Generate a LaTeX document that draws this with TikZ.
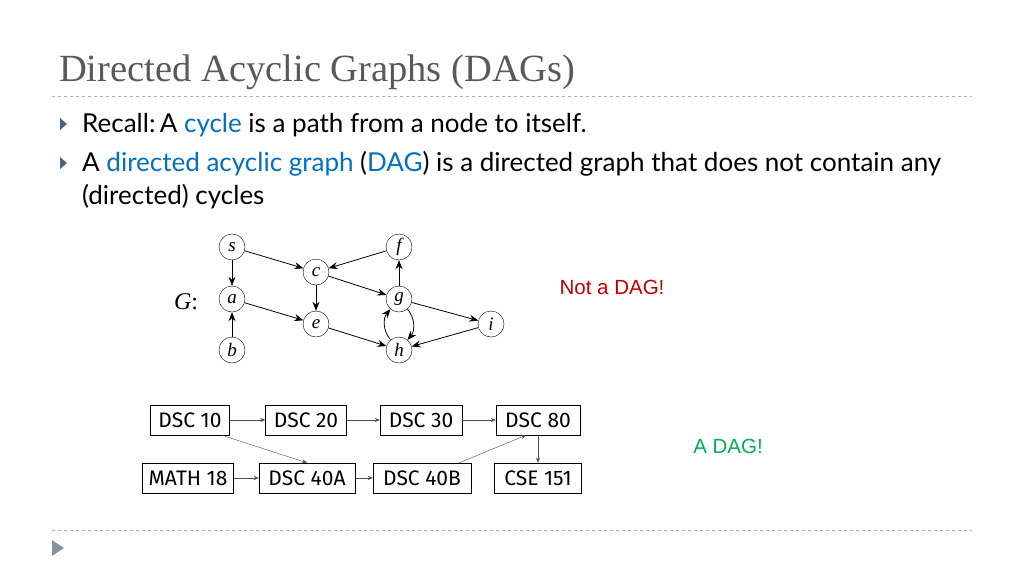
\documentclass[tikz,border=0pt]{standalone}
\usepackage{fontspec}
\setmainfont{Liberation Serif}
\newfontfamily\bodyf{Lato}
\newfontfamily\boxf{Fira Sans}
\newfontfamily\arialf{Liberation Sans}
\usetikzlibrary{arrows.meta}
\definecolor{bl}{RGB}{0,112,192}
\definecolor{bul}{RGB}{80,100,120}
\definecolor{tgray}{RGB}{89,89,89}
\begin{document}
\begin{tikzpicture}[x=1pt,y=-1pt,
 gn/.style={circle,draw,thin,minimum size=26pt,inner sep=0pt,font=\itshape\fontsize{19}{19}\selectfont},
 ge/.style={-{Stealth[length=9pt,width=7pt]},thick},
 bx/.style={draw,thin,minimum height=30pt,inner sep=2pt,font=\boxf\fontsize{21}{21}\selectfont},
 be/.style={-{Stealth[length=5pt,width=4pt]},thin,black!70},
 bt/.style={anchor=west,font=\bodyf\fontsize{26}{30}\selectfont,inner sep=0pt},
 tri/.style={fill=bul,draw=none}]
\useasboundingbox (0,0) rectangle (1024,576);
\node[anchor=west,text=tgray,font=\fontsize{38.5}{38.5}\selectfont,inner sep=0pt] (title) at (59,72) {Directed Acyclic Graphs (DAGs)};
\draw[gray!60,dashed] (52,96) -- (972,96);
\draw[gray!60,dashed] (52,530) -- (972,530);
\fill[tri] (60,118) -- (67,124) -- (60,130) -- cycle;
\fill[tri] (60,157) -- (67,163) -- (60,169) -- cycle;
\fill[bul!70] (52,540) -- (64,548) -- (52,556) -- cycle;
\node[bt] (l1) at (82,125) {Recall:\,A \textcolor{bl}{cycle} is a path from a node to itself.};
\node[bt] (l2) at (82,164) {A \textcolor{bl}{directed acyclic graph} (\textcolor{bl}{DAG}) is a directed graph that does not contain any};
\node[bt] (l3) at (82,197) {(directed) cycles};
\node[gn] (s) at (232,247) {s};
\node[gn] (c) at (316,272) {c};
\node[gn] (f) at (399,247) {f};
\node[gn] (a) at (232,299) {a};
\node[gn] (e) at (316,324) {e};
\node[gn] (g) at (399,299) {g};
\node[gn] (i) at (491,324) {i};
\node[gn] (b) at (232,350) {b};
\node[gn] (h) at (399,350) {h};
\node[font=\itshape\fontsize{24}{24}\selectfont] (G) at (186,302) {G\/\upshape:};
\draw[ge] (s)--(a); \draw[ge] (s)--(c); \draw[ge] (f)--(c);
\draw[ge] (b)--(a); \draw[ge] (a)--(e); \draw[ge] (c)--(e);
\draw[ge] (c)--(g); \draw[ge] (g)--(f); \draw[ge] (g)--(i);
\draw[ge] (e)--(h); \draw[ge] (i)--(h);
\draw[ge] (g) to[bend left=40] (h);
\draw[ge] (h) to[bend left=40] (g);
\node[text=red!75!black,font=\arialf\fontsize{20.5}{20.5}\selectfont] (nd) at (612,287) {Not a DAG!};
\node[text={rgb,255:red,0;green,176;blue,80},font=\arialf\fontsize{20.5}{20.5}\selectfont] (ad) at (728,446) {A DAG!};
\node[bx,minimum width=79pt] (d10) at (190,420) {DSC 10};
\node[bx,minimum width=81pt] (d20) at (306,420) {DSC 20};
\node[bx,minimum width=82pt] (d30) at (421,420) {DSC 30};
\node[bx,minimum width=84pt] (d80) at (538,420) {DSC 80};
\node[bx,minimum width=91pt] (m18) at (188,478) {MATH 18};
\node[bx,minimum width=96pt] (d40a) at (307,478) {DSC 40A};
\node[bx,minimum width=98pt] (d40b) at (422,478) {DSC 40B};
\node[bx,minimum width=87pt] (c151) at (538,478) {CSE 151};
\draw[be] (d10)--(d20); \draw[be] (d20)--(d30); \draw[be] (d30)--(d80);
\draw[be] ([xshift=-8pt]d10.south east) -- (d40a.north);
\draw[be] (m18)--(d40a); \draw[be] (d40a)--(d40b);
\draw[be] ([xshift=-12pt]d40b.north east) -- ([xshift=-12pt]d80.south);
\draw[be] (d80)--(c151);
\end{tikzpicture}
\end{document}
